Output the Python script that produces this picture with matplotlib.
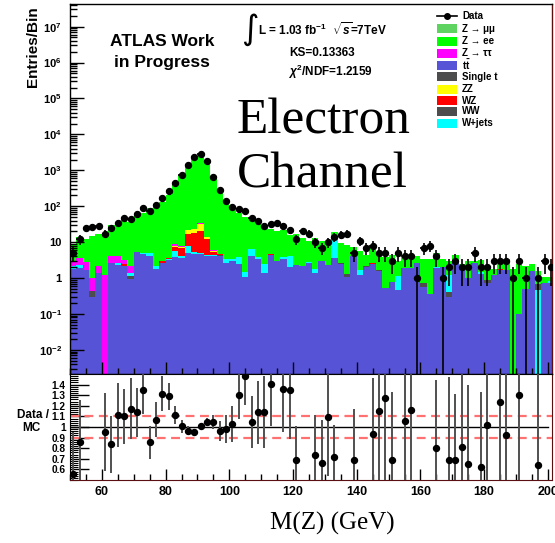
import numpy as np
import matplotlib
matplotlib.use('Agg')
import matplotlib.pyplot as plt
from matplotlib.ticker import FixedLocator, FixedFormatter, MultipleLocator, NullFormatter
from matplotlib.patches import Rectangle
from matplotlib.lines import Line2D

plt.rcParams['font.family'] = ['Liberation Sans', 'DejaVu Sans']
plt.rcParams['font.weight'] = 'bold'
plt.rcParams['mathtext.fontset'] = 'custom'
plt.rcParams['mathtext.rm'] = 'Liberation Sans:bold'
plt.rcParams['mathtext.bf'] = 'Liberation Sans:bold'
plt.rcParams['mathtext.it'] = 'Liberation Sans:italic:bold'

# ---------------- data ----------------
bin_edges = np.arange(50, 204, 2)  # 2 GeV bins, 50-202

data = [5, 12, 25, 27, 28, 17, 25, 35, 47, 43,
        61, 88, 74, 111, 169, 270, 437, 763, 1415, 2400,
        2900, 1770, 670, 282, 141, 96, 84, 74, 47, 38,
        29, 32, 35, 29, 22, 12, 21, 17, 10, 7,
        10, 14, 16, 17, 5, 11, 7, 8, 5, 5,
        3, 5, 4, 4, 1, 7, 8, 4, 1, 2,
        3, 2, 2, 5, 2, 2, 3, 3, 3, 1,
        3, 1, 0, 1, 3, 2]

ttbar = [1.75, 1.88, 1.68, 0.30, 1.41, 0, 2.6, 2.3, 2.2, 0.96,
         5.2, 4.7, 4.2, 1.76, 2.7, 3.1, 3.8, 3.6, 4.96, 4.7,
         4.7, 4.2, 4.2, 4.2, 2.7, 2.9, 2.5, 1.05, 4.0, 3.4,
         1.41, 4.4, 2.9, 3.5, 2.1, 2.3, 2.2, 2.6, 1.36, 2.9,
         2.3, 3.6, 2.4, 1.05, 4.2, 1.2, 2.0, 2.5, 1.55, 0.53,
         0.79, 0.46, 1.85, 1.88, 2.55, 0.55, 0.37, 1.9, 2.0, 0.29,
         2.6, 1.65, 1.0, 2.6, 1.27, 0.71, 1.2, 1.68, 1.68, 0,
         0.1, 0.5, 1.6, 0, 0.71, 0.71]

single_t = [0, 0, 0, 0.14, 0, 0, 0, 0, 0, 0.18,
            0, 0, 0, 0, 0, 0, 0, 0, 0, 0,
            0, 0, 0, 0.2, 0, 0, 0, 0, 0, 0,
            0, 0, 0, 0, 0, 0, 0, 0, 0, 0,
            0, 0, 0.2, 0.25, 0, 0, 0.15, 0, 0.1, 0,
            0, 0, 0, 0, 0, 0.16, 0, 0, 0, 0.11,
            0, 0.1, 0, 0, 0, 0.15, 0, 0, 0, 0,
            0, 0, 0, 0, 0, 0]

wjets = [0.45, 0.5, 0, 0, 0, 0, 0, 0.3, 0, 0.27,
         0, 0.3, 0.8, 0.44, 0, 0.2, 1.7, 0.5, 3.0, 0.6,
         0.3, 0.2, 0.2, 0, 0.7, 0.4, 1.3, 0.45, 2.4, 0.5,
         1.1, 0, 0, 0.3, 2.1, 0, 0, 0.15, 0.4, 0,
         0, 8.2, 0, 0, 0, 0.5, 0, 0, 0, 0,
         0, 0.7, 0.05, 0, 0, 0, 0, 0.1, 0, 0.8,
         0.3, 0, 0, 0, 0.23, 0, 0, 0, 0, 0,
         0, 0, 0, 0.48, 0, 0.1]

ww = [0] * 73 + [0.2, 0, 0]

wz = [0, 0, 0, 0, 0, 0, 0, 0, 0.3, 0,
      0, 0, 0, 0, 0.2, 0.3, 1.8, 2.8, 8.4, 13,
      15, 8, 0.8, 0.2, 0, 0.2, 0, 0, 0, 0,
      0, 0.15, 0, 0, 0, 0, 0, 0, 0, 0,
      0, 0, 0, 0, 0, 0, 0, 0.15, 0, 0,
      0, 0, 0, 0, 0.1, 0, 0, 0, 0.1, 0,
      0, 0, 0, 0, 0, 0, 0.05, 0.1, 0, 0,
      0, 0, 0, 0, 0, 0]

zz = [0, 0, 0, 0, 0, 0, 0.1, 0, 0, 0,
      0, 0, 0, 0, 0, 0, 0.6, 0.6, 5.2, 5,
      13, 1.2, 0.6] + [0] * 53

ztautau = [0.8, 1.2, 1.2, 0.56, 0.8, 1.2, 1.5, 1.4, 0.6, 0.8,
           0.2, 0, 0, 0, 0, 0, 1.0, 0.3, 0.3, 0.5,
           0.5, 0, 0.4] + [0] * 53

zee = [6.0, 10.4, 9.6, 14, 14.8, 16.6, 25.8, 27, 39.9, 34.5,
       48.2, 60, 81.6, 101.8, 125.6, 205.4, 383, 750, 1444, 2494,
       2850, 1676, 634, 288.4, 139.6, 89.5, 60.8, 48.5, 38.6, 29.1,
       23, 18.15, 18.1, 17.5, 12.1, 15.1, 10.8, 8.25, 11.7, 7.6,
       6.8, 7.7, 6.9, 6.8, 3.1, 4.1, 2.35, 5.95, 2.75, 3.37,
       3.56, 1.84, 1.9, 1.57, 1.35, 2.79, 3.13, 3.0, 1.4, 1.7,
       1.5, 0.75, 2.06, 0.4, 1.7, 1.1, 0.55, 0.62, 1.62, 1.8,
       2.3, 1.7, 0.9, 0.92, 0.39, 0.29]

zmumu = [0] * 76

nan = float('nan')
ratio = [0.558, 0.858, nan, nan, nan, 0.95, 0.835, 1.116, 1.10, 1.173,
         1.138, 1.353, 0.855, 1.069, 1.315, 1.29, 1.116, 1.006, 0.965, 0.953,
         1.006, 1.047, 1.047, 0.962, 0.984, 1.028, 1.30, 1.48, 1.047, 1.14,
         1.14, 1.41, nan, 1.36, 1.353, 0.69, nan, nan, 0.738, 0.665,
         1.094, 0.716, nan, nan, 0.684, nan, nan, 0.934, 1.148, 1.277,
         0.69, nan, 1.06, 1.16, nan, nan, nan, 0.804, nan, 0.69,
         0.684, 0.807, 0.653, nan, 0.624, 1.02, nan, 1.24, 0.92, nan,
         1.30, nan, nan, 0.643, nan, nan]

ytick_labels = [r'$10^{-2}$', r'$10^{-1}$', '1', '10', r'$10^{2}$', r'$10^{3}$',
                r'$10^{4}$', r'$10^{5}$', r'$10^{6}$', r'$10^{7}$']

components = [  # (name, values, colour) bottom -> top
    ('tt', ttbar, '#5753d6'),
    ('Single t', single_t, '#4d4d4d'),
    ('W+jets', wjets, '#00ffff'),
    ('WW', ww, '#4d4d4d'),
    ('WZ', wz, '#ff0000'),
    ('ZZ', zz, '#ffff00'),
    ('Ztautau', ztautau, '#ff00ff'),
    ('Zee', zee, '#00ff00'),
    ('Zmumu', zmumu, '#5fd35f'),
]

# ---------------- figure ----------------
W, H = 555, 543
fig = plt.figure(figsize=(W / 100, H / 100), dpi=100)

def fx(x):
    return x / W

def fy(y):
    return 1 - y / H

left_px, right_px = 70, 552
top_px, mid_px, bot_px = 4, 374, 480
ax = fig.add_axes([fx(left_px), fy(mid_px), (right_px - left_px) / W, (mid_px - top_px) / H])
axr = fig.add_axes([fx(left_px), fy(bot_px), (right_px - left_px) / W, (bot_px - mid_px) / H])

xmin, xmax = 50, 201.3
edges = np.asarray(bin_edges, dtype=float)
centers = 0.5 * (edges[:-1] + edges[1:])

# stacked histogram (draw cumulative from top to bottom)
cum = np.zeros(len(centers))
cums = []
for name, vals, col in components:
    cum = cum + np.asarray(vals, dtype=float)
    cums.append((cum.copy(), col))
for c, col in reversed(cums):
    ax.stairs(np.maximum(c, 1e-5), edges, baseline=1e-5, fill=True, color=col, lw=0)

d = np.asarray(data, dtype=float)
m = d > 0
ax.errorbar(centers[m], d[m], yerr=np.sqrt(d[m]), xerr=1.0, fmt='o', color='black',
            ms=4.3, elinewidth=1.2, capsize=0, zorder=5, clip_on=True)

ax.set_yscale('log')
ax.set_xlim(xmin, xmax)
ax.set_ylim(10 ** -2.67, 10 ** 7.63)
ax.yaxis.set_major_locator(FixedLocator(10.0 ** np.arange(-2, 8)))
ax.yaxis.set_major_formatter(FixedFormatter(ytick_labels))
ax.yaxis.set_minor_locator(FixedLocator([k * 10.0 ** e for e in range(-3, 8) for k in range(2, 10)]))
ax.yaxis.set_minor_formatter(NullFormatter())
ax.xaxis.set_major_locator(MultipleLocator(20))
ax.xaxis.set_minor_locator(MultipleLocator(5))
ax.xaxis.set_major_formatter(NullFormatter())
ax.tick_params(axis='both', which='both', direction='in', top=False, right=False)
ax.tick_params(axis='y', which='major', length=10, width=1, labelsize=8, pad=6)
ax.tick_params(axis='y', which='minor', length=5, width=1)
ax.tick_params(axis='x', which='major', length=9, width=1)
ax.tick_params(axis='x', which='minor', length=4, width=1)
for s in ax.spines.values():
    s.set_linewidth(1.0)
ax.spines['right'].set_color('#5a1010')
ax.set_axisbelow(False)

# ratio panel
r = np.asarray(ratio, dtype=float)
mr = ~np.isnan(r)
rerr = r[mr] * 1.6 / np.sqrt(d[mr])
axr.axhline(1.0, color='black', lw=1.0, xmin=0, xmax=(200 - xmin) / (xmax - xmin))
axr.axhline(1.1, color='#ff7070', lw=1.6, ls=(0, (4, 2.5)))
axr.axhline(0.9, color='#ff7070', lw=1.6, ls=(0, (4, 2.5)))
axr.errorbar(centers[mr], r[mr], yerr=rerr, fmt='o', color='black', ecolor='#505050',
             ms=4.3, elinewidth=1.4, capsize=0, zorder=5)
axr.set_xlim(xmin, xmax)
axr.set_ylim(0.5, 1.5)
axr.yaxis.set_major_locator(FixedLocator(np.round(np.arange(0.6, 1.45, 0.1), 2)))
axr.yaxis.set_major_formatter(FixedFormatter(['0.6', '0.7', '0.8', '0.9', '1', '1.1', '1.2', '1.3', '1.4']))
axr.yaxis.set_minor_locator(MultipleLocator(0.02))
axr.xaxis.set_major_locator(FixedLocator([60, 80, 100, 120, 140, 160, 180, 200]))
axr.xaxis.set_major_formatter(FixedFormatter(['60', '80', '100', '120', '140', '160', '180', '200']))
axr.xaxis.set_minor_locator(MultipleLocator(5))
axr.tick_params(axis='both', which='both', direction='in', top=False, right=False)
axr.tick_params(axis='y', which='major', length=14, width=1, labelsize=7.3, pad=3)
axr.tick_params(axis='y', which='minor', length=6, width=0.8)
axr.tick_params(axis='x', which='major', length=8, width=1, labelsize=9, pad=4)
axr.tick_params(axis='x', which='minor', length=4, width=1)
axr.spines['bottom'].set_color('#5a1010')
axr.spines['right'].set_color('#5a1010')

# axis labels
fig.text(fx(33), fy(6), 'Entries/Bin', rotation=90, ha='center', va='top', fontsize=11, fontweight='bold')
fig.text(fx(33), fy(415), 'Data /', ha='center', va='center', fontsize=8.5, fontweight='bold')
fig.text(fx(31), fy(428), 'MC', ha='center', va='center', fontsize=8.5, fontweight='bold')
fig.text(fx(332), fy(523), 'M(Z) (GeV)', ha='center', va='center', fontsize=18,
         family='Liberation Serif', fontweight='normal')

# annotations
fig.text(fx(162), fy(41), 'ATLAS Work', ha='center', va='center', fontsize=12.5, fontweight='bold')
fig.text(fx(162), fy(63), 'in Progress', ha='center', va='center', fontsize=12.5, fontweight='bold')
fig.text(fx(250), fy(30), r'$\int$', ha='center', va='center', fontsize=17,
         family='DejaVu Sans', fontweight='normal', math_fontfamily='dejavusans')
fig.text(fx(258), fy(30), r'L = 1.03 fb$^{-1}$  $\sqrt{s}$=7TeV', ha='left', va='center',
         fontsize=8.5, fontweight='bold')
fig.text(fx(322), fy(53), 'KS=0.13363', ha='center', va='center', fontsize=8.5, fontweight='bold')
fig.text(fx(330), fy(72), r'$\chi^{2}$/NDF=1.2159', ha='center', va='center', fontsize=8.5,
         fontweight='bold')
fig.text(fx(323), fy(133), 'Electron', ha='center', va='baseline', fontsize=37,
         family='Liberation Serif', fontweight='normal')
fig.text(fx(322), fy(188), 'Channel', ha='center', va='baseline', fontsize=37,
         family='Liberation Serif', fontweight='normal')

# legend (manual)
leg_entries = [('Z → μμ', '#5fd35f', 28.5), ('Z → ee', '#00ff00', 41), ('Z → ττ', '#ff00ff', 53),
               (r'$\mathbf{t\bar{t}}$', '#5753d6', 65), ('Single t', '#4d4d4d', 76.5),
               ('ZZ', '#ffff00', 89), ('WZ', '#ff0000', 100.5), ('WW', '#4d4d4d', 111.5),
               ('W+jets', '#00ffff', 123)]
fig.lines.append(Line2D([fx(437), fx(457)], [fy(16), fy(16)], color='black', lw=1.2,
                        transform=fig.transFigure))
fig.lines.append(Line2D([fx(447)], [fy(16)], marker='o', ms=4, color='black', lw=0,
                        transform=fig.transFigure))
fig.text(fx(462), fy(16), 'Data', ha='left', va='center', fontsize=7, fontweight='bold')
for lab, col, yc in leg_entries:
    fig.patches.append(Rectangle((fx(437), fy(yc + 4.5)), 20 / W, 9 / H, facecolor=col,
                                 edgecolor='none', transform=fig.transFigure))
    fig.text(fx(462), fy(yc), lab, ha='left', va='center', fontsize=7, fontweight='bold')

fig.savefig('out.png', dpi=100)
